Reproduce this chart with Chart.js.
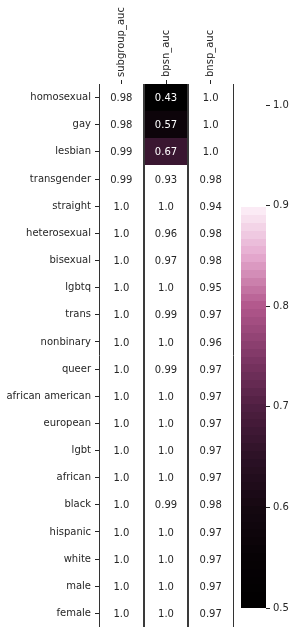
<!DOCTYPE html>
<html>
<head>
<meta charset="utf-8">
<script src="https://cdn.jsdelivr.net/npm/chart.js@4.4.0/dist/chart.umd.min.js"></script>
<style>
  body { margin: 0; background: #fff; }
  #wrap { position: relative; width: 296px; height: 638px; }
  canvas { position: absolute; left: 0; top: 0; }
</style>
</head>
<body>
<div id="wrap">
  <canvas id="heat" width="296" height="638"></canvas>
  <canvas id="cbar" width="296" height="638"></canvas>
</div>
<script>
var rows = ["homosexual", "gay", "lesbian", "transgender", "straight", "heterosexual",
  "bisexual", "lgbtq", "trans", "nonbinary", "queer", "african american", "european",
  "lgbt", "african", "black", "hispanic", "white", "male", "female"];
var columns = ["subgroup_auc", "bpsn_auc", "bnsp_auc"];

var subgroupAuc = [0.98, 0.98, 0.99, 0.99, 1.0, 1.0, 1.0, 1.0, 1.0, 1.0,
  1.0, 1.0, 1.0, 1.0, 1.0, 1.0, 1.0, 1.0, 1.0, 1.0];
var bpsnAuc = [0.43, 0.57, 0.67, 0.93, 1.0, 0.96, 0.97, 1.0, 0.99, 1.0,
  0.99, 1.0, 1.0, 1.0, 1.0, 0.99, 1.0, 1.0, 1.0, 1.0];
var bnspAuc = [1.0, 1.0, 1.0, 0.98, 0.94, 0.98, 0.98, 0.95, 0.97, 0.96,
  0.97, 0.97, 0.97, 0.97, 0.97, 0.98, 0.97, 0.97, 0.97, 0.97];

var colorbarTicks = [0.5, 0.6, 0.7, 0.8, 0.9, 1.0];
var vmin = 0.5, vmax = 1.0;

// colour stops of the map, black -> pink -> white
var stops = [
  [0.00, [0, 0, 0]],
  [0.10, [7, 2, 5]],
  [0.20, [21, 8, 17]],
  [0.30, [44, 17, 38]],
  [0.40, [79, 31, 65]],
  [0.50, [127, 55, 102]],
  [0.60, [178, 88, 140]],
  [0.70, [229, 170, 207]],
  [0.79, [251, 236, 245]],
  [0.80, [255, 255, 255]],
  [1.00, [255, 255, 255]]
];

function cmapRgb(v) {
  var t = (v - vmin) / (vmax - vmin);
  t = Math.max(0, Math.min(1, t));
  for (var i = 1; i < stops.length; i++) {
    if (t <= stops[i][0]) {
      var a = stops[i - 1], b = stops[i];
      var f = (t - a[0]) / (b[0] - a[0]);
      return [0, 1, 2].map(function (k) { return Math.round(a[1][k] + f * (b[1][k] - a[1][k])); });
    }
  }
  return stops[stops.length - 1][1];
}
function cmap(v) {
  var c = cmapRgb(v);
  return "rgb(" + c[0] + "," + c[1] + "," + c[2] + ")";
}
function fmt(v) {
  var s = String(v);
  return s.indexOf(".") < 0 ? s + ".0" : s;
}
function lum(c) {
  var l = c.map(function (x) {
    x = x / 255;
    return x <= 0.03928 ? x / 12.92 : Math.pow((x + 0.055) / 1.055, 2.4);
  });
  return 0.2126 * l[0] + 0.7152 * l[1] + 0.0722 * l[2];
}

var series = [subgroupAuc, bpsnAuc, bnspAuc];
var textColor = "#262626";
var font = { family: "DejaVu Sans", size: 10 };

var cellText = {
  id: "cellText",
  afterDatasetsDraw: function (chart) {
    var ctx = chart.ctx;
    ctx.save();
    ctx.font = "10px 'DejaVu Sans'";
    ctx.textAlign = "center";
    ctx.textBaseline = "middle";
    chart.data.datasets.forEach(function (ds, d) {
      chart.getDatasetMeta(d).data.forEach(function (el, i) {
        var v = series[d][i];
        var p = el.getCenterPoint();
        ctx.fillStyle = lum(cmapRgb(v)) > 0.408 ? textColor : "#ffffff";
        ctx.fillText(fmt(v), p.x, p.y + 1);
      });
    });
    // separating lines
    var xs = chart.scales.x, area = chart.chartArea;
    [0, 1, 2, 3].forEach(function (v) {
      var x = Math.round(xs.getPixelForValue(v));
      var inner = v === 1 || v === 2;
      ctx.strokeStyle = inner ? "#3a3a3a" : "#333333";
      ctx.lineWidth = inner ? 2 : 1;
      ctx.beginPath();
      ctx.moveTo(inner ? x : x + 0.5, area.top);
      ctx.lineTo(inner ? x : x + 0.5, area.bottom);
      ctx.stroke();
    });
    ctx.restore();
  }
};

new Chart(document.getElementById("heat"), {
  type: "bar",
  data: {
    labels: rows,
    datasets: series.map(function (vals, c) {
      return {
        label: columns[c],
        data: vals.map(function () { return [c, c + 1]; }),
        backgroundColor: vals.map(cmap),
        borderWidth: 0,
        barPercentage: 1,
        categoryPercentage: 1,
        grouped: false
      };
    })
  },
  options: {
    responsive: false,
    animation: false,
    indexAxis: "y",
    layout: { padding: { left: 0, right: 63, top: 0, bottom: 11 } },
    plugins: { legend: { display: false }, tooltip: { enabled: false } },
    scales: {
      x: {
        type: "linear",
        position: "top",
        min: 0,
        max: 3,
        afterBuildTicks: function (scale) {
          scale.ticks = [0.5, 1.5, 2.5].map(function (v) { return { value: v }; });
        },
        afterFit: function (scale) { scale.height = 84; },
        ticks: {
          autoSkip: false,
          minRotation: 90,
          maxRotation: 90,
          padding: 3,
          labelOffset: 12,
          color: textColor,
          font: font,
          callback: function (v, i) { return columns[i]; }
        },
        grid: { drawOnChartArea: false, tickLength: 4, color: textColor },
        border: { display: false }
      },
      y: {
        afterFit: function (scale) { scale.width = 99; },
        ticks: { padding: 4, color: textColor, font: font, autoSkip: false },
        grid: { drawOnChartArea: false, tickLength: 4, color: textColor, offset: false },
        border: { display: false }
      }
    }
  },
  plugins: [cellText]
});

// colorbar
var bands = 64;
new Chart(document.getElementById("cbar"), {
  type: "bar",
  data: {
    labels: ["cbar"],
    datasets: [{
      data: [[vmin, vmax]],
      borderWidth: 0,
      barPercentage: 1,
      categoryPercentage: 1,
      backgroundColor: function (c) {
        var chart = c.chart, ys = chart.scales.y;
        if (!chart.chartArea || !ys) return "#000";
        var y0 = ys.getPixelForValue(vmin), y1 = ys.getPixelForValue(vmax);
        var g = chart.ctx.createLinearGradient(0, y0, 0, y1);
        for (var i = 0; i < bands; i++) {
          var col = cmap(vmin + (vmax - vmin) * (i + 0.5) / bands);
          g.addColorStop(i / bands, col);
          g.addColorStop((i + 1) / bands, col);
        }
        return g;
      }
    }]
  },
  options: {
    responsive: false,
    animation: false,
    layout: { padding: { left: 241, right: 0, top: 105, bottom: 30 } },
    plugins: { legend: { display: false }, tooltip: { enabled: false } },
    scales: {
      x: { display: false },
      y: {
        position: "right",
        min: vmin,
        max: vmax,
        afterBuildTicks: function (scale) {
          scale.ticks = colorbarTicks.map(function (v) { return { value: v }; });
        },
        afterFit: function (scale) { scale.width = 30; },
        ticks: {
          padding: 3,
          color: textColor,
          font: font,
          callback: function (v) { return v.toFixed(1); }
        },
        grid: { drawOnChartArea: false, tickLength: 4, color: textColor },
        border: { display: false }
      }
    }
  }
});
</script>
</body>
</html>
